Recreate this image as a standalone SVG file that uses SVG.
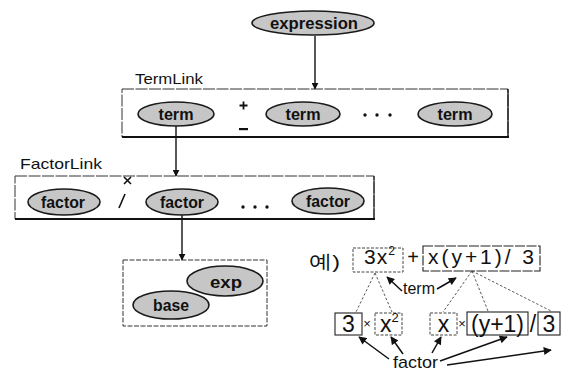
<svg xmlns="http://www.w3.org/2000/svg" width="569" height="372" viewBox="0 0 569 372">
  <defs>
    <marker id="arr" viewBox="0 0 10 10" refX="9" refY="5" markerWidth="7" markerHeight="7" orient="auto" markerUnits="userSpaceOnUse">
      <path d="M0,0 L10,5 L0,10 z" fill="#111"/>
    </marker>
    <marker id="arrBig" viewBox="0 0 10 10" refX="9" refY="5" markerWidth="9" markerHeight="8" orient="auto" markerUnits="userSpaceOnUse">
      <path d="M0,0 L10,5 L0,10 z" fill="#111"/>
    </marker>
  </defs>
  <style>
    .oval { fill: #c6c6c6; stroke: #1a1a1a; stroke-width: 1.6; }
    .olbl { font-family: "Liberation Sans", Arial, sans-serif; font-weight: bold; font-size: 17px; fill: #111; text-anchor: middle; }
    .cap { font-family: "Liberation Sans", Arial, sans-serif; font-size: 15px; fill: #111; }
    .frame { fill: none; stroke: #333; stroke-width: 1; }
    .thick { stroke: #111; stroke-width: 2.2; }
    .link { stroke: #111; stroke-width: 1.4; fill: none; }
    .math { font-family: "Liberation Sans", Arial, sans-serif; fill: #111; }
    .box { fill: none; stroke: #222; stroke-width: 1.1; }
    .dbox { fill: none; stroke: #444; stroke-width: 1; stroke-dasharray: 3 1.5; }
    .dash { stroke: #444; stroke-width: 0.9; stroke-dasharray: 2.5 2; fill: none; }
    .ptr { stroke: #111; stroke-width: 1.5; fill: none; }
    .sym { fill: #111; }
  </style>

  <rect width="569" height="372" fill="#fff"/>

  <!-- connectors -->
  <g id="connectors">
    <line class="link" x1="315" y1="36" x2="315" y2="89" marker-end="url(#arr)"/>
    <line class="link" x1="176" y1="126" x2="176" y2="176" marker-end="url(#arr)"/>
    <line class="link" x1="182" y1="215" x2="182" y2="260" marker-end="url(#arr)"/>
  </g>

  <!-- root node -->
  <g id="expression">
    <ellipse class="oval" cx="313" cy="23" rx="61" ry="12"/>
    <text class="olbl" x="314" y="29" textLength="88" lengthAdjust="spacingAndGlyphs">expression</text>
  </g>

  <!-- term list -->
  <g id="termlink">
    <text class="cap" x="135" y="84" textLength="68" lengthAdjust="spacingAndGlyphs">TermLink</text>
    <rect class="frame" x="122" y="89" width="386" height="48" stroke-dasharray="12 1.5"/>
    <line class="thick" x1="122" y1="137" x2="509" y2="137"/>
    <line stroke="#111" stroke-width="1.3" x1="508" y1="89" x2="508" y2="137"/>
    <!-- operators -->
    <path class="sym" d="M239.5,104.6 h8 v1.8 h-8 z M242.6,101.5 h1.8 v8 h-1.8 z"/>
    <rect class="sym" x="239" y="128" width="9" height="2.2"/>
    <circle class="sym" cx="365" cy="115" r="1.7"/>
    <circle class="sym" cx="377" cy="115" r="1.7"/>
    <circle class="sym" cx="390" cy="115" r="1.7"/>
  </g>
  <g id="term1">
    <ellipse class="oval" cx="176" cy="114" rx="38" ry="12"/>
    <text class="olbl" x="176" y="120" textLength="35" lengthAdjust="spacingAndGlyphs">term</text>
  </g>
  <g id="term2">
    <ellipse class="oval" cx="303" cy="114" rx="37" ry="12"/>
    <text class="olbl" x="303" y="120" textLength="35" lengthAdjust="spacingAndGlyphs">term</text>
  </g>
  <g id="term3">
    <ellipse class="oval" cx="455" cy="114" rx="37" ry="12"/>
    <text class="olbl" x="455" y="120" textLength="35" lengthAdjust="spacingAndGlyphs">term</text>
  </g>

  <!-- factor list -->
  <g id="factorlink">
    <text class="cap" x="20" y="169" textLength="82" lengthAdjust="spacingAndGlyphs">FactorLink</text>
    <rect class="frame" x="15" y="176" width="359" height="43" stroke-dasharray="12 1.5"/>
    <line class="thick" x1="15" y1="219" x2="375" y2="219"/>
    <line stroke="#111" stroke-width="1" x1="374" y1="176" x2="374" y2="219"/>
    <path d="M124,177 L131,184 M131,177 L124,184" stroke="#111" stroke-width="1.6"/>
    <line x1="119" y1="208" x2="125" y2="194" stroke="#111" stroke-width="1.6"/>
    <circle class="sym" cx="243" cy="207" r="1.7"/>
    <circle class="sym" cx="255" cy="207" r="1.7"/>
    <circle class="sym" cx="267" cy="207" r="1.7"/>
  </g>
  <g id="factor1">
    <ellipse class="oval" cx="64" cy="202" rx="36" ry="13"/>
    <text class="olbl" x="63" y="208" textLength="44" lengthAdjust="spacingAndGlyphs">factor</text>
  </g>
  <g id="factor2">
    <ellipse class="oval" cx="182" cy="202" rx="36" ry="13"/>
    <text class="olbl" x="182" y="208" textLength="44" lengthAdjust="spacingAndGlyphs">factor</text>
  </g>
  <g id="factor3">
    <ellipse class="oval" cx="328" cy="201" rx="36" ry="13"/>
    <text class="olbl" x="328" y="207" textLength="44" lengthAdjust="spacingAndGlyphs">factor</text>
  </g>

  <!-- factor internals -->
  <g id="factorbox">
    <rect class="frame" x="123" y="260" width="144" height="66" stroke-dasharray="5 1.5"/>
  </g>
  <g id="exp">
    <ellipse class="oval" cx="225" cy="281" rx="38" ry="15"/>
    <text class="olbl" x="226" y="288" textLength="32" lengthAdjust="spacingAndGlyphs">exp</text>
  </g>
  <g id="base">
    <ellipse class="oval" cx="171" cy="305" rx="38" ry="14"/>
    <text class="olbl" x="171" y="311" textLength="36" lengthAdjust="spacingAndGlyphs">base</text>
  </g>

  <!-- worked example -->
  <g id="example">
    <text class="math" x="309" y="268" font-size="19" font-family="'Liberation Sans', 'Noto Sans CJK KR', sans-serif" textLength="31" lengthAdjust="spacingAndGlyphs">예)</text>

    <rect class="dbox" x="353" y="248" width="50" height="24"/>
    <text class="math" x="364" y="264" font-size="21" letter-spacing="1">3x<tspan font-size="12" dy="-9">2</tspan></text>
    <text class="math" x="413" y="264" font-size="20" text-anchor="middle">+</text>
    <rect class="box" x="423" y="246" width="117" height="25" stroke-dasharray="10 1.5"/>
    <text class="math" x="428" y="264" font-size="21" textLength="106" lengthAdjust="spacing">x(y+1)/ 3</text>

    <text class="math" x="403" y="294" font-size="16" textLength="32" lengthAdjust="spacingAndGlyphs">term</text>

    <line class="dash" x1="375" y1="273" x2="356" y2="312"/>
    <line class="dash" x1="375" y1="273" x2="392" y2="312"/>
    <line class="dash" x1="472" y1="271" x2="443" y2="312"/>
    <line class="dash" x1="472" y1="271" x2="488" y2="311"/>
    <line class="dash" x1="472" y1="271" x2="551" y2="311"/>

    <rect class="box" x="335" y="313" width="27" height="22"/>
    <text class="math" x="348.5" y="332" font-size="23" text-anchor="middle">3</text>
    <text class="math" x="367" y="328" font-size="13" text-anchor="middle">×</text>
    <rect class="dbox" x="375" y="313" width="27" height="22"/>
    <text class="math" x="380" y="332" font-size="23">x<tspan font-size="13" dy="-10">2</tspan></text>
    <rect class="dbox" x="430" y="313" width="27" height="22"/>
    <text class="math" x="443.5" y="332" font-size="23" text-anchor="middle">x</text>
    <text class="math" x="462" y="328" font-size="13" text-anchor="middle">×</text>
    <rect class="box" x="467" y="312" width="61" height="23" stroke-width="1.4"/>
    <text class="math" x="497.5" y="332" font-size="23" text-anchor="middle">(y+1)</text>
    <text class="math" x="533" y="332" font-size="23" text-anchor="middle">/</text>
    <rect class="box" x="538" y="312" width="22" height="23"/>
    <text class="math" x="549" y="332" font-size="23" text-anchor="middle">3</text>

    <text class="math" x="393" y="368" font-size="17" textLength="45" lengthAdjust="spacingAndGlyphs">factor</text>

    <line class="ptr" x1="402" y1="291" x2="387" y2="277" marker-end="url(#arrBig)"/>
    <line class="ptr" x1="437" y1="289" x2="456" y2="278" marker-end="url(#arrBig)"/>

    <line class="ptr" x1="389" y1="359" x2="359" y2="337" marker-end="url(#arrBig)"/>
    <line class="ptr" x1="403" y1="354" x2="391" y2="337" marker-end="url(#arrBig)"/>
    <line class="ptr" x1="432" y1="353" x2="441" y2="337" marker-end="url(#arrBig)"/>
    <line class="ptr" x1="440" y1="361" x2="507" y2="337" marker-end="url(#arrBig)"/>
    <line class="ptr" x1="447" y1="365" x2="551" y2="350" marker-end="url(#arrBig)"/>
  </g>
</svg>
